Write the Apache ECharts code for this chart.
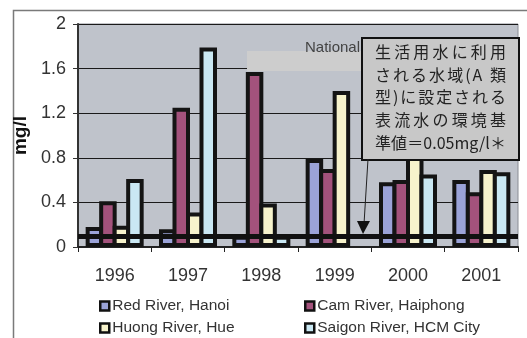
<!DOCTYPE html>
<html>
<head>
<meta charset="utf-8">
<script src="https://cdn.jsdelivr.net/npm/echarts@6/dist/echarts.min.js"></script>
<style>
  html, body { margin: 0; padding: 0; background: #ffffff; }
  #chart { width: 527px; height: 338px; }
</style>
</head>
<body>
<div id="chart"></div>
<script>
// Years on the category axis
const years = ['1996', '1997', '1998', '1999', '2000', '2001'];

// Concentrations (mg/l) per monitoring site
const redRiverHanoi = [0.18, 0.16, 0.1, 0.79, 0.58, 0.60];
const camRiverHaiphong = [0.41, 1.25, 1.57, 0.70, 0.60, 0.49];
const huongRiverHue = [0.19, 0.31, 0.39, 1.40, 0.95, 0.69];
const saigonRiverHcm = [0.61, 1.79, 0.1, null, 0.65, 0.67];

// Y axis ticks
const yTicks = [0, 0.4, 0.8, 1.2, 1.6, 2];

// National standard level drawn as a thick rule
const nationalStandard = 0.1;

// Callout text
const noteLines = [
  '生活用水に利用',
  'される水域(A 類',
  '型)に設定される',
  '表流水の環境基',
  ['準', '値', '＝', '0.05mg/l', '＊']
];

const seriesNames = ['Red River, Hanoi', 'Cam River, Haiphong', 'Huong River, Hue', 'Saigon River, HCM City'];
const seriesValues = [redRiverHanoi, camRiverHaiphong, huongRiverHue, saigonRiverHcm];
const seriesColors = ['#9ba3d8', '#a3527c', '#f7f3cc', '#cae8f3'];

const latin = '"Liberation Sans", Arial, sans-serif';
const cjk = '"Noto Sans CJK JP", sans-serif';

const chart = echarts.init(document.getElementById('chart'), null, { renderer: 'canvas' });

// Bars overlap by one border width so neighbours share a single outline
const barBorder = 4;
const barW = 17.5;

const barSeries = seriesNames.map((name, i) => ({
  name: name,
  type: 'bar',
  data: seriesValues[i],
  barWidth: barW,
  barGap: (-barBorder / barW * 100) + '%',
  itemStyle: { color: seriesColors[i], borderColor: '#141414', borderWidth: barBorder },
  emphasis: { disabled: true },
  z: 2
}));

// Thick standard line on top of the bars
barSeries.push({
  name: 'standard',
  type: 'line',
  data: [],
  z: 5,
  markLine: {
    silent: true,
    symbol: ['none', 'none'],
    label: { show: false },
    lineStyle: { color: '#111', width: 5, type: 'solid' },
    data: [{ yAxis: nationalStandard }],
    z: 5
  }
});

const legendPos = [
  { left: 99, top: 298 },
  { left: 304, top: 298 },
  { left: 99, top: 320 },
  { left: 304, top: 320 }
];

const legends = seriesNames.map((name, i) => ({
  data: [name],
  left: legendPos[i].left,
  top: legendPos[i].top,
  icon: 'rect',
  itemWidth: 9,
  itemHeight: 9,
  itemGap: 0,
  padding: 0,
  selectedMode: false,
  itemStyle: { color: seriesColors[i], borderColor: '#111', borderWidth: 2.5 },
  textStyle: { fontFamily: latin, fontSize: 15.5, color: '#333', padding: [0, 0, 0, -2] }
}));

// Callout lines, justified across the box width
const measureCtx = document.createElement('canvas').getContext('2d');
const noteFontSize = 16;
measureCtx.font = noteFontSize + 'px "Noto Sans CJK JP"';
const noteLeft = 375;
const noteWidth = 131;
const noteTop = 52;
const noteStep = 22.7;
const noteText = [];
noteLines.forEach((line, row) => {
  const tokens = Array.isArray(line) ? line : Array.from(line);
  const widths = tokens.map(t => measureCtx.measureText(t).width);
  const total = widths.reduce((a, b) => a + b, 0);
  const gap = tokens.length > 1 ? (noteWidth - total) / (tokens.length - 1) : 0;
  let x = noteLeft;
  tokens.forEach((t, k) => {
    noteText.push({
      type: 'text',
      x: x,
      y: noteTop + row * noteStep,
      z: 12,
      silent: true,
      style: { text: t, fontFamily: cjk, fontSize: noteFontSize, fill: '#222',
        textVerticalAlign: 'middle', verticalAlign: 'middle' }
    });
    x += widths[k] + gap;
  });
});

const option = {
  animation: false,
  backgroundColor: '#ffffff',
  textStyle: { fontFamily: latin },
  grid: {
    left: 78, right: 9, top: 24, bottom: 91,
    show: true, backgroundColor: '#bfc3cb', borderColor: '#8a8d94', borderWidth: 1
  },
  legend: legends,
  xAxis: {
    type: 'category',
    data: years,
    axisLine: { lineStyle: { color: '#222', width: 2 } },
    axisTick: { show: true, length: 5, lineStyle: { color: '#222', width: 1 } },
    axisLabel: { margin: 20, fontSize: 18, color: '#333', fontFamily: latin }
  },
  yAxis: {
    type: 'value',
    min: yTicks[0],
    max: yTicks[yTicks.length - 1],
    interval: yTicks[1] - yTicks[0],
    name: 'mg/l',
    nameLocation: 'middle',
    nameGap: 42,
    nameTextStyle: { fontSize: 19, fontWeight: 'bold', color: '#111', fontFamily: latin },
    axisLine: { show: true, lineStyle: { color: '#333', width: 2 } },
    axisTick: { show: true, length: 5, lineStyle: { color: '#333' } },
    axisLabel: { margin: 12, fontSize: 18, color: '#333', fontFamily: latin,
      formatter: v => String(v) },
    splitLine: { lineStyle: { color: '#1a1a1a', width: 1 } }
  },
  series: barSeries,
  graphic: [
    // outer frame
    { type: 'rect', left: 11, top: 8, z: 0, silent: true,
      shape: { width: 530, height: 340 },
      style: { fill: 'none', stroke: '#7a7a7a', lineWidth: 1.5 } },
    // standard caption band
    { type: 'rect', left: 247, top: 51, z: 1, silent: true,
      shape: { width: 116, height: 20 },
      style: { fill: '#cdcdcd' } },
    { type: 'text', left: 305, top: 40, z: 1, silent: true,
      style: { text: 'National', fontFamily: latin, fontSize: 15, fill: '#444' } },
    // callout box
    { type: 'rect', left: 361, top: 37, z: 11, silent: true,
      shape: { width: 157, height: 122 },
      style: { fill: '#c8c8c8', stroke: '#111', lineWidth: 2 } },
    // arrow from callout to the standard line
    { type: 'line', z: 11, silent: true,
      shape: { x1: 368, y1: 159, x2: 364, y2: 224 },
      style: { stroke: '#222', lineWidth: 1 } },
    { type: 'polygon', z: 11, silent: true,
      shape: { points: [[357, 221], [370, 221], [363, 234]] },
      style: { fill: '#111' } }
  ].concat(noteText)
};

chart.setOption(option);
</script>
</body>
</html>
